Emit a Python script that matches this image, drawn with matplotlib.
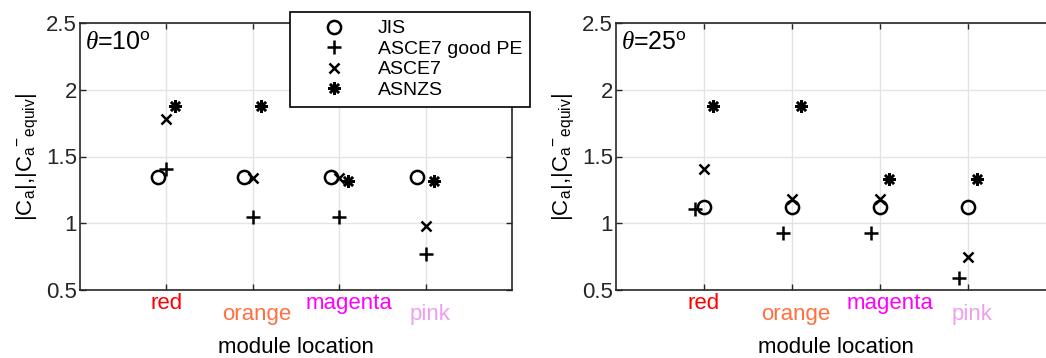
import matplotlib
matplotlib.use('Agg')
import matplotlib.pyplot as plt
import matplotlib.transforms as mtransforms
import numpy as np

plt.rcParams['font.family'] = ['Liberation Sans', 'DejaVu Sans']
plt.rcParams['mathtext.fontset'] = 'custom'
plt.rcParams['mathtext.rm'] = 'Liberation Sans'
plt.rcParams['mathtext.it'] = 'Liberation Serif:italic'

# module locations
locations = ['red', 'orange', 'magenta', 'pink']
loc_colors = ['#FF0000', '#FF7040', '#FF00FF', '#EE9EEE']
xpos = np.arange(1, 5)

# theta = 10 deg
jis_10 = [1.35, 1.35, 1.35, 1.35]
good_pe_10 = [1.41, 1.05, 1.05, 0.77]
asce7_10 = [1.78, 1.34, 1.34, 0.98]
asnzs_10 = [1.88, 1.88, 1.32, 1.32]

# theta = 25 deg
jis_25 = [1.12, 1.12, 1.12, 1.12]
good_pe_25 = [1.11, 0.93, 0.93, 0.59]
asce7_25 = [1.41, 1.18, 1.18, 0.75]
asnzs_25 = [1.88, 1.88, 1.33, 1.33]

W, H = 1046, 358
fig = plt.figure(figsize=(W / 100, H / 100), dpi=100)
ax1 = fig.add_axes([80 / W, 68 / H, 432 / W, 267 / H])
ax2 = fig.add_axes([616 / W, 68 / H, 440 / W, 267 / H])

frame = '#262626'
asterisk = (8, 2, 0)


def draw(ax, jis, pe, asce, asnzs, off_jis, off_pe, title):
    ax.plot(xpos + off_jis, jis, 'o', mfc='none', mec='k', ms=9.5, mew=1.8, label='JIS')
    ax.plot(xpos + off_pe, pe, '+', color='k', ms=10, mew=1.8, label='ASCE7 good PE')
    ax.plot(xpos, asce, 'x', color='k', ms=7, mew=1.8, label='ASCE7')
    ax.plot(xpos + 0.1, asnzs, marker=asterisk, ls='none', color='k', ms=9, mew=1.8,
            label='ASNZS')
    ax.set_xlim(0, 5)
    ax.set_ylim(0.5, 2.5)
    ax.set_yticks([0.5, 1, 1.5, 2, 2.5])
    ax.set_yticklabels(['0.5', '1', '1.5', '2', '2.5'])
    ax.set_xticks(xpos)
    ax.set_xticklabels(locations)
    ax.grid(True, color='#e3e3e3', lw=1)
    ax.set_axisbelow(True)
    ax.tick_params(direction='in', length=4, width=1, colors=frame, labelsize=16,
                   top=True, right=True, pad=2)
    for sp in ax.spines.values():
        sp.set_color(frame)
        sp.set_linewidth(1.2)
    for lab, c, (dx, dy) in zip(ax.get_xticklabels(), loc_colors,
                                [(0, 0), (4, -11), (10, 0), (4, -11)]):
        lab.set_color(c)
        lab.set_transform(lab.get_transform() +
                          mtransforms.ScaledTranslation(dx / 100, dy / 100,
                                                        fig.dpi_scale_trans))
    ax.set_xlabel('module location', fontsize=16, labelpad=9)
    ax.set_ylabel(r'$\mathrm{|C_a|{,}|C_a{}^{-}{}_{equiv}|}$', fontsize=16, labelpad=4)
    ax.text(0.06, 2.35, title, fontsize=18, va='center', ha='left')


draw(ax1, jis_10, good_pe_10, asce7_10, asnzs_10, -0.1, 0.0,
     r'$\theta$=10$^{\rm o}$')
draw(ax2, jis_25, good_pe_25, asce7_25, asnzs_25, 0.0, -0.1,
     r'$\theta$=25$^{\rm o}$')

leg = ax1.legend(loc='upper left', bbox_to_anchor=(290 / W, 1 - 12 / H),
                 bbox_transform=fig.transFigure, fontsize=14, frameon=True,
                 fancybox=False, borderpad=0.4, handlelength=3.7,
                 handletextpad=0.4, labelspacing=0.15, borderaxespad=0)
leg.get_frame().set_edgecolor('k')
leg.get_frame().set_linewidth(1.2)
leg.get_frame().set_alpha(1)

fig.savefig('out.png', dpi=100)
